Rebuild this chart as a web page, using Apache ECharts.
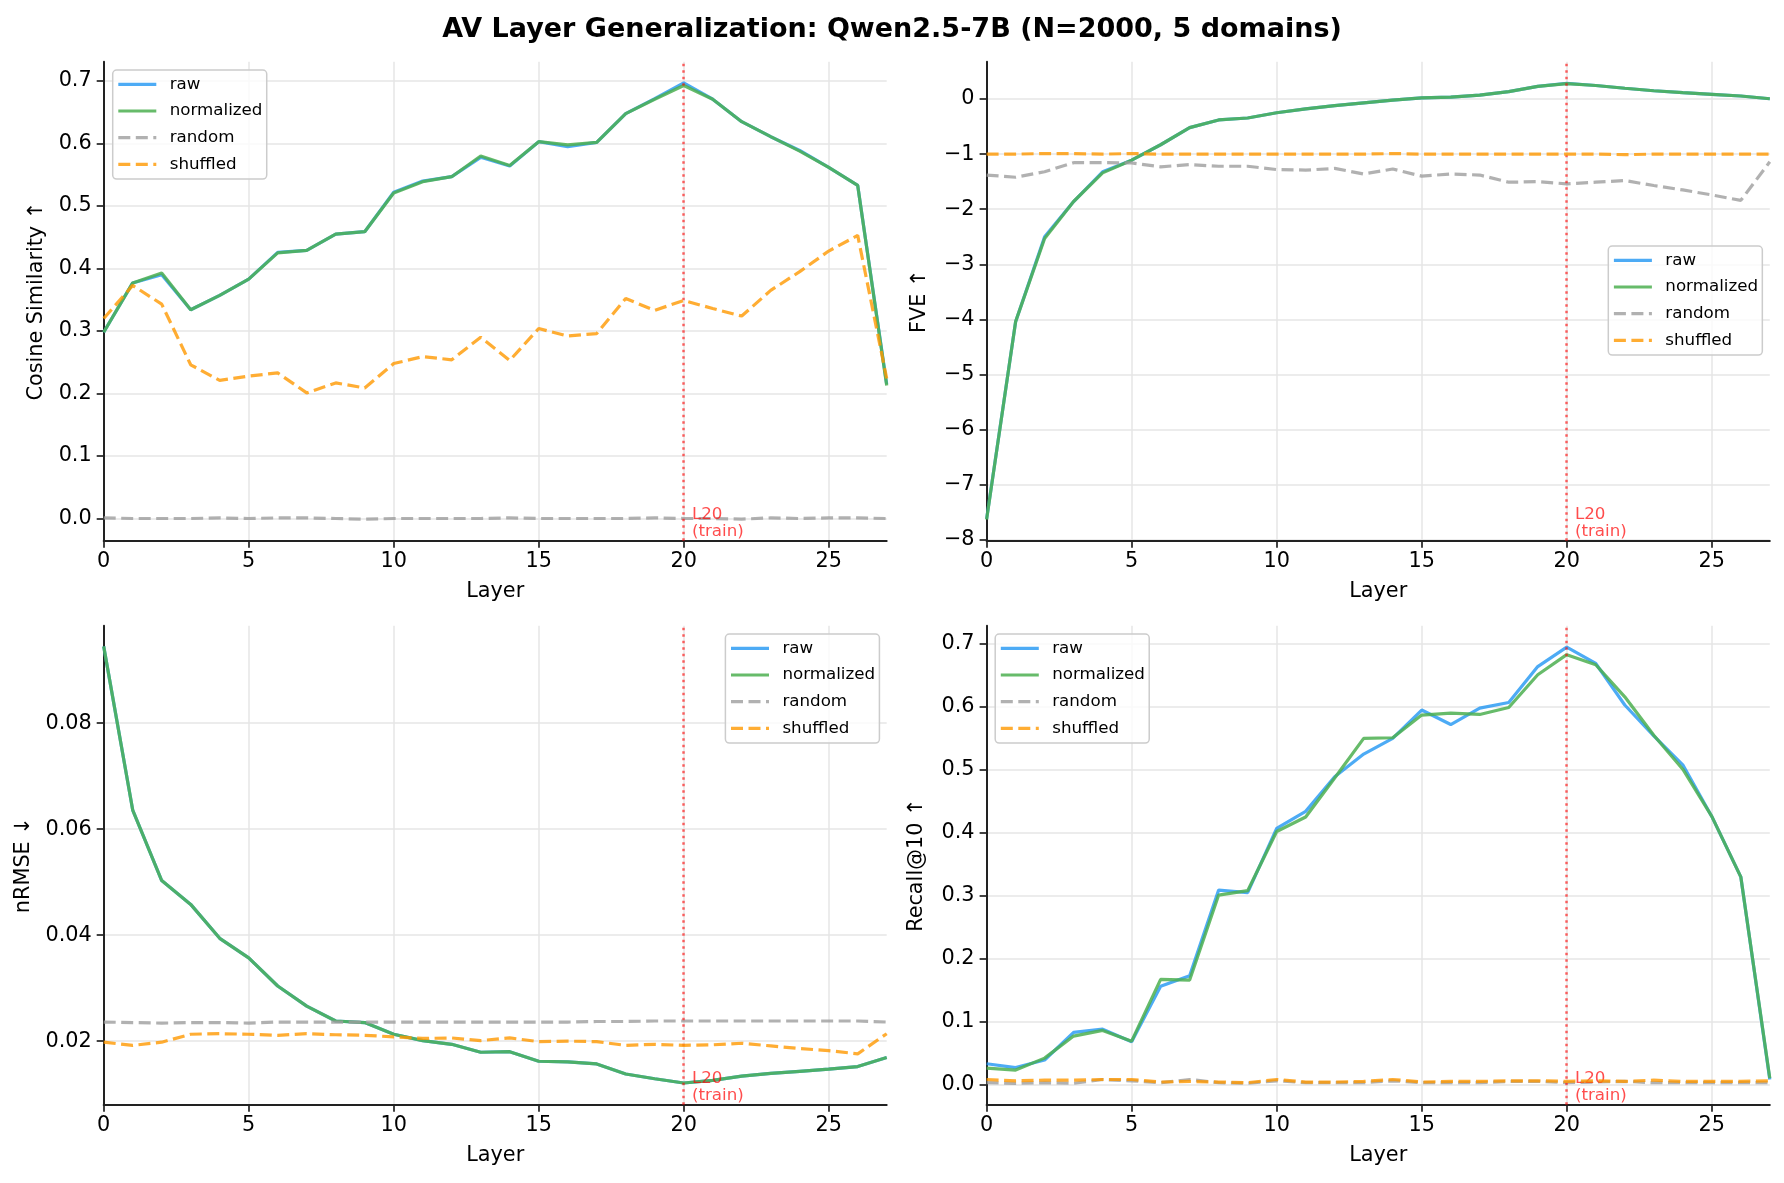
<!DOCTYPE html>
<html><head><meta charset="utf-8">
<script src="https://cdn.jsdelivr.net/npm/echarts@6/dist/echarts.min.js"></script>
<style>html,body{margin:0;padding:0;background:#fff}#c{width:1784px;height:1183px}</style>
</head><body><div id="c"></div>
<script>
const layers = [0,1,2,3,4,5,6,7,8,9,10,11,12,13,14,15,16,17,18,19,20,21,22,23,24,25,26,27];
const seriesNames = ['raw','normalized','random','shuffled'];

const cosRaw      = [0.298,0.377,0.390,0.334,0.357,0.383,0.426,0.429,0.455,0.459,0.522,0.540,0.547,0.578,0.564,0.603,0.595,0.602,0.648,0.672,0.697,0.671,0.635,0.611,0.589,0.562,0.533,0.215];
const cosNorm     = [0.298,0.377,0.393,0.334,0.357,0.383,0.425,0.429,0.455,0.459,0.521,0.539,0.547,0.580,0.565,0.603,0.598,0.602,0.648,0.671,0.693,0.671,0.635,0.611,0.588,0.562,0.533,0.213];
const cosRandom   = [0.001,0.000,0.000,0.000,0.001,0.000,0.001,0.001,0.000,-0.001,0.000,0.000,0.000,0.000,0.001,0.000,0.000,0.000,0.000,0.001,0.000,0.000,-0.001,0.001,0.000,0.001,0.001,0.000];
const cosShuffled = [0.320,0.373,0.343,0.246,0.221,0.228,0.233,0.201,0.217,0.209,0.248,0.259,0.254,0.290,0.253,0.304,0.292,0.296,0.352,0.333,0.349,0.336,0.324,0.365,0.395,0.428,0.453,0.224];

const fveRaw      = [-7.62,-4.04,-2.50,-1.86,-1.32,-1.11,-0.83,-0.52,-0.38,-0.345,-0.25,-0.18,-0.12,-0.07,-0.02,0.02,0.035,0.07,0.135,0.23,0.285,0.245,0.195,0.15,0.115,0.085,0.055,0.005];
const fveNorm     = [-7.63,-4.04,-2.53,-1.86,-1.34,-1.11,-0.83,-0.52,-0.38,-0.345,-0.25,-0.18,-0.12,-0.07,-0.02,0.02,0.035,0.07,0.135,0.23,0.28,0.245,0.195,0.15,0.115,0.085,0.055,0.005];
const fveRandom   = [-1.38,-1.42,-1.32,-1.155,-1.155,-1.16,-1.23,-1.19,-1.22,-1.22,-1.28,-1.29,-1.26,-1.36,-1.27,-1.40,-1.36,-1.38,-1.51,-1.50,-1.54,-1.51,-1.48,-1.57,-1.65,-1.74,-1.84,-1.14];
const fveShuffled = [-1.00,-1.00,-0.99,-0.99,-1.00,-0.99,-1.00,-1.00,-1.00,-1.00,-1.00,-1.00,-1.00,-1.00,-0.99,-1.00,-1.00,-1.00,-1.00,-1.00,-1.00,-1.00,-1.01,-1.00,-1.00,-1.00,-1.00,-1.00];

const nrmseRaw      = [0.0945,0.0636,0.0503,0.0458,0.0394,0.0357,0.0304,0.0266,0.0238,0.0235,0.0213,0.0201,0.0194,0.0179,0.0180,0.0162,0.0161,0.0157,0.0138,0.0129,0.0121,0.0126,0.0134,0.0139,0.0143,0.0147,0.0152,0.0169];
const nrmseNorm     = [0.0945,0.0636,0.0503,0.0458,0.0394,0.0357,0.0304,0.0266,0.0238,0.0235,0.0213,0.0201,0.0194,0.0179,0.0180,0.0162,0.0161,0.0157,0.0138,0.0129,0.0121,0.0126,0.0134,0.0139,0.0143,0.0147,0.0152,0.0169];
const nrmseRandom   = [0.0236,0.0235,0.0234,0.0235,0.0235,0.0234,0.0236,0.0236,0.0236,0.0236,0.0236,0.0236,0.0236,0.0236,0.0236,0.0236,0.0236,0.0237,0.0237,0.0238,0.0238,0.0238,0.0238,0.0238,0.0238,0.0238,0.0238,0.0236];
const nrmseShuffled = [0.0198,0.0192,0.0198,0.0213,0.0214,0.0213,0.0211,0.0214,0.0212,0.0211,0.0208,0.0205,0.0206,0.0201,0.0206,0.0199,0.0200,0.0199,0.0192,0.0194,0.0192,0.0193,0.0196,0.0191,0.0186,0.0182,0.0176,0.0214];

const recallRaw      = [0.033,0.027,0.039,0.083,0.088,0.068,0.156,0.173,0.309,0.305,0.407,0.434,0.489,0.525,0.550,0.595,0.572,0.598,0.607,0.664,0.695,0.669,0.603,0.554,0.508,0.426,0.330,0.008];
const recallNorm     = [0.026,0.023,0.042,0.077,0.086,0.069,0.167,0.166,0.301,0.308,0.402,0.425,0.487,0.550,0.551,0.587,0.590,0.588,0.599,0.651,0.683,0.667,0.616,0.555,0.501,0.426,0.330,0.010];
const recallRandom   = [0.003,0.002,0.003,0.002,0.008,0.006,0.003,0.008,0.003,0.002,0.006,0.003,0.003,0.003,0.006,0.003,0.003,0.003,0.005,0.005,0.003,0.004,0.005,0.003,0.003,0.003,0.003,0.003];
const recallShuffled = [0.008,0.006,0.007,0.007,0.008,0.008,0.004,0.005,0.004,0.003,0.008,0.004,0.004,0.005,0.008,0.004,0.005,0.005,0.006,0.006,0.005,0.006,0.005,0.007,0.005,0.005,0.005,0.006];

const xTicks      = [0,5,10,15,20,25];
const cosTicks    = [0,0.1,0.2,0.3,0.4,0.5,0.6,0.7];
const fveTicks    = [-8,-7,-6,-5,-4,-3,-2,-1,0];
const nrmseTicks  = [0.02,0.04,0.06,0.08];
const recallTicks = [0,0.1,0.2,0.3,0.4,0.5,0.6,0.7];
const trainLayer = 20;
const trainLabel = 'L20\n(train)';

const FONT = 'DejaVu Sans';
const LW = 3.2;
const styles = [
  {color:'rgba(33,150,243,0.8)', type:'solid'},
  {color:'rgba(76,175,80,0.85)', type:'solid'},
  {color:'rgba(158,158,158,0.8)', type:[12,5.5]},
  {color:'rgba(255,152,0,0.8)', type:[12,5.5]}
];
const minus = v => (v < 0 ? '\u2212' + Math.abs(v) : String(v));
const panels = [
  {vals:[cosRaw,cosNorm,cosRandom,cosShuffled], yName:'Cosine Similarity \u2191', grid:{left:103.7,top:61.7,width:783,height:479},
   yMin:-0.0355, yMax:0.731, step:0.1, ticks:cosTicks, fmt:v=>v.toFixed(1), nameGap:57, legend:{left:112.7, top:70}},
  {vals:[fveRaw,fveNorm,fveRandom,fveShuffled], yName:'FVE \u2191', grid:{left:986.6,top:61.7,width:783.2,height:479},
   yMin:-8.015, yMax:0.677, step:1, ticks:fveTicks, fmt:minus, nameGap:56, legend:{left:1608.3, top:246}},
  {vals:[nrmseRaw,nrmseNorm,nrmseRandom,nrmseShuffled], yName:'nRMSE \u2193', grid:{left:103.7,top:625.7,width:783,height:479},
   yMin:0.0080, yMax:0.0984, step:0.02, ticks:nrmseTicks, fmt:v=>v.toFixed(2), nameGap:70, legend:{left:725.4, top:634}},
  {vals:[recallRaw,recallNorm,recallRandom,recallShuffled], yName:'Recall@10 \u2191', grid:{left:986.6,top:625.7,width:783.2,height:479},
   yMin:-0.032, yMax:0.729, step:0.1, ticks:recallTicks, fmt:v=>v.toFixed(1), nameGap:59, legend:{left:995.2, top:634}}
];

const option = {
  animation:false, backgroundColor:'#fff',
  textStyle:{fontFamily:FONT},
  title:{text:'AV Layer Generalization: Qwen2.5-7B (N=2000, 5 domains)', left:'center', top:11,
    textStyle:{fontFamily:FONT, fontSize:27, fontWeight:'bold', color:'#000'}},
  grid:[], xAxis:[], yAxis:[], series:[], legend:[]
};

panels.forEach((p, i) => {
  option.grid.push(Object.assign({containLabel:false}, p.grid));
  option.xAxis.push({
    gridIndex:i, type:'value', min:0, max:27, interval:5,
    name:'Layer', nameLocation:'middle', nameGap:40,
    nameTextStyle:{fontFamily:FONT, fontSize:20.8, color:'#000'},
    axisLine:{show:true, onZero:false, lineStyle:{color:'#222', width:2}},
    axisTick:{show:true, length:7, customValues:xTicks, lineStyle:{color:'#222', width:1.7}},
    axisLabel:{show:true, margin:10, customValues:xTicks, fontFamily:FONT, fontSize:20.8, color:'#000'},
    splitLine:{show:true, lineStyle:{color:'#e6e6e6', width:1.5}}
  });
  option.yAxis.push({
    gridIndex:i, type:'value', min:p.yMin, max:p.yMax, minInterval:p.step, maxInterval:p.step,
    name:p.yName, nameLocation:'middle', nameRotate:90, nameGap:p.nameGap,
    nameTextStyle:{fontFamily:FONT, fontSize:20.8, color:'#000'},
    axisLine:{show:true, onZero:false, lineStyle:{color:'#222', width:2}},
    axisTick:{show:true, length:7, customValues:p.ticks, lineStyle:{color:'#222', width:1.7}},
    axisLabel:{show:true, margin:12, customValues:p.ticks,
      formatter:p.fmt, fontFamily:FONT, fontSize:20.8, color:'#000'},
    splitLine:{show:true, lineStyle:{color:'#e6e6e6', width:1.5}}
  });
  seriesNames.forEach((nm, k) => {
    const s = {
      name:nm, type:'line', xAxisIndex:i, yAxisIndex:i, symbol:'none', showSymbol:false, silent:true,
      data: layers.map((L, j) => [L, p.vals[k][j]]),
      lineStyle:{color:styles[k].color, width:LW, type:styles[k].type},
      itemStyle:{color:styles[k].color},
      emphasis:{disabled:true}, z:2+k
    };
    if (k === 3) {
      s.markLine = {silent:true, symbol:['none','none'], animation:false,
        label:{show:false},
        lineStyle:{color:'rgba(255,0,0,0.6)', width:2.5, type:[2.5,4]},
        data:[{xAxis:trainLayer}]};
      s.markPoint = {silent:true, animation:false, symbol:'circle', symbolSize:1,
        itemStyle:{color:'rgba(0,0,0,0)'},
        label:{show:true, formatter:trainLabel, position:[0,0], align:'left', verticalAlign:'bottom',
          color:'rgba(255,0,0,0.7)', fontFamily:FONT, fontSize:16.7, lineHeight:17},
        data:[{coord:[trainLayer + 0.3, p.yMin]}]};
    }
    option.series.push(s);
  });
  option.legend.push({
    show:true, orient:'vertical', left:p.legend.left, top:p.legend.top,
    data:seriesNames, selectedMode:false,
    itemWidth:38, itemHeight:17, itemGap:9.7,
    padding:[5.8, 4.3, 6.2, 4],
    backgroundColor:'rgba(255,255,255,0.8)', borderColor:'#cccccc', borderWidth:1.5, borderRadius:4,
    itemStyle:{color:'rgba(0,0,0,0)', borderWidth:0, opacity:0},
    lineStyle:{width:LW},
    textStyle:{fontFamily:FONT, fontSize:16.7, color:'#000', lineHeight:17, padding:[0,0,0,8.4]}
  });
});

const chart = echarts.init(document.getElementById('c'), null, {renderer:'canvas', width:1784, height:1183});
chart.setOption(option);
</script>
</body></html>
